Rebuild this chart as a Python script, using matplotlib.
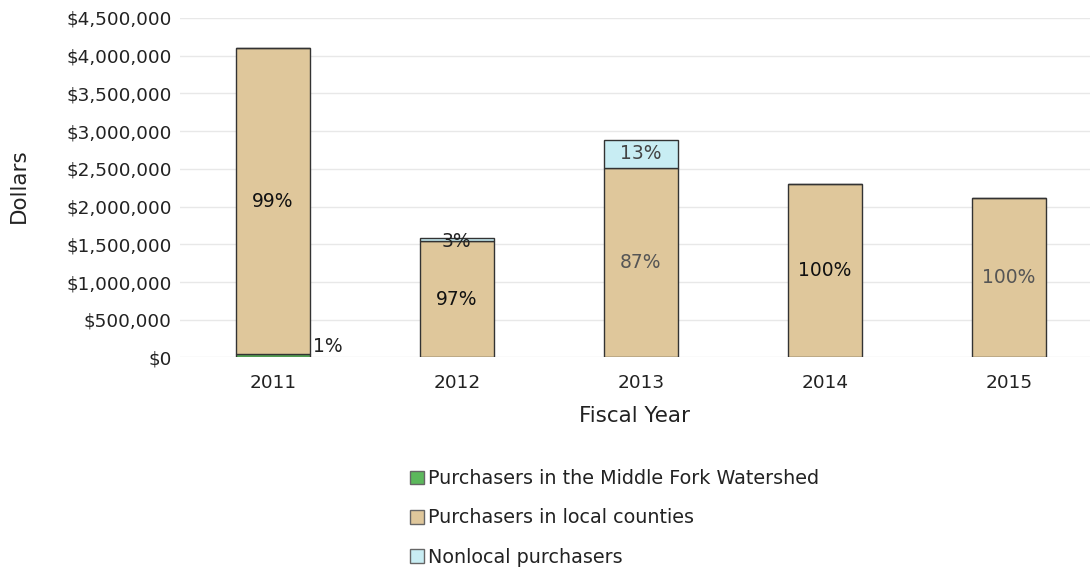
import numpy as np
import matplotlib.pyplot as plt
from matplotlib.patches import Patch
from matplotlib.ticker import FuncFormatter

# Data
years = ['2011', '2012', '2013', '2014', '2015']
middle_fork = [41000, 0, 0, 0, 0]
local = [4065000, 1540000, 2512000, 2300000, 2114000]
nonlocal_ = [0, 50000, 371000, 0, 0]
series_names = ['Purchasers in the Middle Fork Watershed',
                'Purchasers in local counties',
                'Nonlocal purchasers']

# labels on the local-counties segments
local_labels = ['99%', '97%', '87%', '100%', '100%']
local_label_col = ['#111111', '#111111', '#555555', '#111111', '#555555']

green = '#5cb85c'
tan = '#dfc79b'
blue = '#c8edf3'
edge = '#333333'

fig = plt.figure(figsize=(10.9, 5.71), dpi=100)
ax = fig.add_axes([0.165, 0.374, 0.835, 0.5945])

x = np.arange(len(years))
w = 0.4
mf = np.array(middle_fork)
lc = np.array(local)
nl = np.array(nonlocal_)

ax.bar(x, mf, w, color=green, edgecolor=edge, linewidth=1, zorder=3)
ax.bar(x, lc, w, bottom=mf, color=tan, edgecolor=edge, linewidth=1, zorder=3)
ax.bar(x, nl, w, bottom=mf + lc, color=blue, edgecolor=edge, linewidth=1, zorder=3)

# percentage labels
for i in range(len(years)):
    ax.text(x[i], mf[i] + lc[i] * 0.5, local_labels[i], ha='center', va='center',
            fontsize=13.5, color=local_label_col[i], zorder=4)
ax.text(x[0] + w / 2 + 0.02, 150000, '1%', ha='left', va='center', fontsize=13.5, color='#222222', zorder=4)
ax.text(x[1], mf[1] + lc[1] + nl[1] / 2 - 30000, '3%', ha='center', va='center', fontsize=13.5, color='#222222', zorder=4)
ax.text(x[2], mf[2] + lc[2] + nl[2] / 2, '13%', ha='center', va='center', fontsize=13.5, color='#444444', zorder=4)

ax.set_xlim(-0.505, 4.44)
ax.set_ylim(0, 4500000)
ax.set_yticks(np.arange(0, 4500001, 500000))
ax.yaxis.set_major_formatter(FuncFormatter(lambda v, p: '${:,.0f}'.format(v)))
ax.set_xticks(x)
ax.set_xticklabels(years)
ax.tick_params(axis='both', length=0, labelsize=13.3, colors='#222222')
ax.tick_params(axis='x', pad=12)
ax.tick_params(axis='y', pad=6)
ax.grid(axis='y', color='#e8e8e8', linewidth=1, zorder=0)
for s in ax.spines.values():
    s.set_visible(False)

ax.set_xlabel('Fiscal Year', fontsize=15.5, color='#222222', labelpad=10)
ax.set_ylabel('Dollars', fontsize=15.5, color='#222222')
ax.yaxis.set_label_coords(-0.166, 0.505)

handles = [Patch(facecolor=green, edgecolor='#666666'),
           Patch(facecolor=tan, edgecolor='#666666'),
           Patch(facecolor=blue, edgecolor='#666666')]
fig.legend(handles, series_names, loc='upper left', bbox_to_anchor=(0.376, 0.178),
           frameon=False, fontsize=13.8, handlelength=0.72, handleheight=0.72,
           handletextpad=0.25, labelspacing=1.05, borderaxespad=0, borderpad=0,
           labelcolor='#222222')

plt.savefig('out.png', dpi=100)
